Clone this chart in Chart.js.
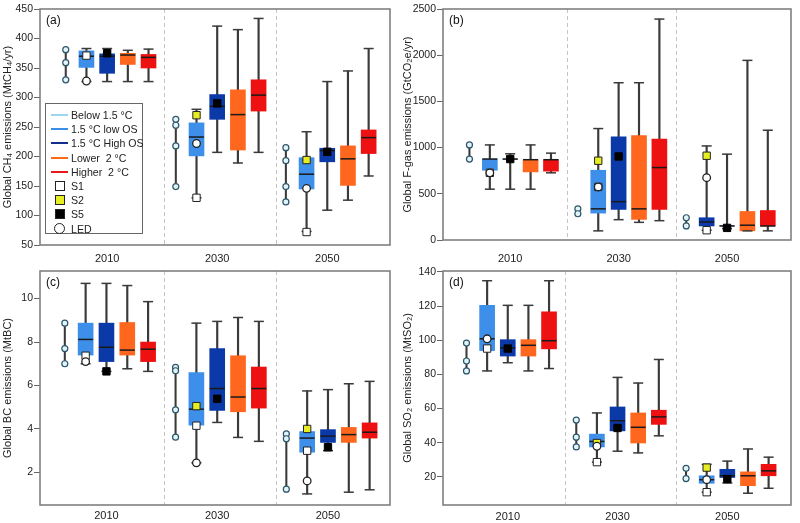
<!DOCTYPE html>
<html>
<head>
<meta charset="utf-8">
<script src="https://cdn.jsdelivr.net/npm/chart.js@4.4.1/dist/chart.umd.min.js"></script>
<style>
  body { margin: 0; background: #fff; font-family: "Liberation Sans", Arial, sans-serif; }
  #wrap { position: relative; width: 800px; height: 523px; background: #fff; }
  canvas { position: absolute; }
  #legend { position: absolute; left: 45px; top: 103px; width: 98px; height: 131px;
            border: 1px solid #666; background: #fff; box-sizing: border-box; font-size: 10.6px; color: #222; }
  .row { position: absolute; left: 0; height: 14px; line-height: 14px; white-space: nowrap; }
  .row .sym { position: absolute; left: 5px; top: 0; width: 17px; height: 14px; }
  .row .txt { position: absolute; left: 25px; top: 0; }
  .ln { position: absolute; left: 0; top: 6px; width: 17px; height: 2px; }
  .sq { position: absolute; left: 4px; top: 2px; width: 8px; height: 8px; border: 1px solid #222; }
  .ci { position: absolute; left: 3px; top: 1px; width: 9px; height: 9px; border: 1.3px solid #222; border-radius: 50%; background: #fff; }
</style>
</head>
<body>
<div id="wrap">
  <canvas id="pa" width="400" height="262" style="left:0;top:0"></canvas>
  <canvas id="pb" width="400" height="262" style="left:400px;top:0"></canvas>
  <canvas id="pc" width="400" height="261" style="left:0;top:262px"></canvas>
  <canvas id="pd" width="400" height="261" style="left:400px;top:262px"></canvas>
  <div id="legend"></div>
</div>
<script>
// categories
const years = ['2010', '2030', '2050'];
const seriesNames = ['Below 1.5 °C', '1.5 °C low OS', '1.5 °C High OS', 'Lower  2 °C', 'Higher  2 °C'];
const markerNames = ['S1', 'S2', 'S5', 'LED'];

// boxes: [min, q1, median, q3, max] per year; Below 1.5 °C: single scenario values

// (a) CH4
const ch4Below15 = [[381, 359, 330], [263, 253, 218, 149], [215, 193, 149, 123]];
const ch4LowOS   = [[327, 351, 370, 379, 383], [130, 201, 233, 257, 280], [73, 145, 170, 198, 242]];
const ch4HighOS  = [[327, 341, 370, 374, 383], [207, 263, 285, 305, 421], [109, 191, 210, 214, 327]];
const ch4Lower2  = [[327, 356, 372, 375, 380], [189, 211, 271, 313, 415], [126, 151, 196, 218, 345]];
const ch4Higher2 = [[327, 350, 368, 373, 382], [207, 277, 304, 330, 434], [167, 205, 232, 245, 383]];
const ch4S1  = [371, 130, 72];
const ch4S2  = [null, 270, 194];
const ch4S5  = [375, 290, 208];
const ch4LED = [328, 222, 146];
const ch4Ticks = [50, 100, 150, 200, 250, 300, 350, 400, 450];

// (b) F-gas
const fgasBelow15 = [[1029, 876], [337, 284], [241, 152]];
const fgasLowOS   = [[550, 755, 876, 876, 1029], [99, 291, 337, 755, 1206], [106, 152, 195, 241, 1018]];
const fgasHighOS  = [[550, 876, 876, 876, 933], [220, 330, 415, 1117, 1702], [124, 152, 152, 152, 929]];
const fgasLower2  = [[550, 737, 869, 869, 1029], [191, 223, 337, 1131, 1702], [99, 99, 160, 309, 1944]];
const fgasHigher2 = [[727, 745, 869, 869, 940], [209, 330, 784, 1093, 2391], [99, 152, 152, 319, 1188]];
const fgasS1  = [727, 574, 106];
const fgasS2  = [null, 858, 912];
const fgasS5  = [876, 904, 131];
const fgasLED = [727, 574, 674];
const fgasTicks = [0, 500, 1000, 1500, 2000, 2500];

// (c) BC
const bcBelow15 = [[8.87, 7.70, 7.0], [6.83, 6.68, 4.88, 3.62], [3.77, 3.55, 1.23]];
const bcLowOS   = [[7.0, 7.40, 8.12, 8.87, 10.7], [2.44, 4.17, 4.91, 6.59, 8.87], [1.01, 2.93, 3.58, 3.88, 5.75]];
const bcHighOS  = [[6.65, 7.1, 7.76, 8.87, 10.7], [4.30, 4.85, 5.86, 7.70, 8.95], [3.0, 3.38, 3.67, 3.97, 5.81]];
const bcLower2  = [[6.77, 7.4, 7.63, 8.9, 10.6], [3.61, 4.79, 5.47, 7.37, 9.13], [1.09, 3.38, 3.74, 4.07, 6.08]];
const bcHigher2 = [[6.65, 7.1, 7.67, 8.0, 9.86], [3.43, 4.96, 5.86, 6.85, 8.95], [1.2, 3.58, 3.85, 4.28, 6.19]];
const bcS1  = [7.37, 4.15, 3.0];
const bcS2  = [null, 5.05, 4.0];
const bcS5  = [6.65, 5.39, 3.16];
const bcLED = [7.1, 2.44, 1.61];
const bcTicks = [2, 4, 6, 8, 10];

// (d) SO2
const so2Below15 = [[98.3, 87.8, 82], [53.2, 43.2, 37.5], [25, 19]];
const so2LowOS   = [[82, 93.9, 100.8, 120.4, 134.8], [28.6, 37.5, 40.7, 45, 57.4], [11, 16.2, 18.3, 20.6, 27.3]];
const so2HighOS  = [[86.8, 90.7, 95.5, 100.3, 120.4], [35, 46.9, 52.8, 60.9, 78.2], [16.4, 19.6, 20.6, 24.4, 29.2]];
const so2Lower2  = [[82, 90.7, 97, 100.3, 120.4], [34, 39.8, 49, 57.4, 74.9], [10.4, 14.8, 20.6, 22.9, 36.3]];
const so2Higher2 = [[83.4, 94.9, 99.7, 116.6, 134.8], [44, 50.7, 55.1, 59, 88.7], [13.3, 20.6, 23.5, 27.3, 31.5]];
const so2S1  = [95.1, 28.6, 11];
const so2S2  = [null, 39.8, 25.4];
const so2S5  = [95.1, 48.6, 18.7];
const so2LED = [100.8, 37.9, 18.3];
const so2Ticks = [20, 40, 60, 80, 100, 120, 140];

// styles
const lineColors = ['#9ad6f0', '#3a8ee8', '#10308c', '#ff6a1a', '#e81818'];
const boxColors = ['#3d8fea', '#0b3aa8', '#ff661e', '#ee1111'];
const whiskerColor = '#3a3a3a';
const medianColor = '#1a1a1a';
const slot = 0.188;   // distance between boxes inside one year group
const FONT = '"Liberation Sans", Arial, sans-serif';

const panelDecor = {
  id: 'panelDecor',
  beforeDatasetsDraw(chart, args, o) {
    const ctx = chart.ctx, a = chart.chartArea, xs = chart.scales.x;
    ctx.save();
    ctx.strokeStyle = '#c4c4c4';
    ctx.lineWidth = 1;
    ctx.setLineDash([4, 3]);
    o.dividers.forEach(v => {
      const px = Math.round(xs.getPixelForValue(v)) + 0.5;
      ctx.beginPath(); ctx.moveTo(px, a.top); ctx.lineTo(px, a.bottom); ctx.stroke();
    });
    ctx.restore();
  },
  afterDraw(chart, args, o) {
    const ctx = chart.ctx, a = chart.chartArea;
    ctx.save();
    ctx.strokeStyle = '#808080';
    ctx.lineWidth = 1.6;
    ctx.strokeRect(a.left, a.top, a.right - a.left, a.bottom - a.top);
    ctx.fillStyle = '#111';
    ctx.font = '12px ' + FONT;
    ctx.textBaseline = 'top';
    ctx.fillText(o.label, a.left + 6, a.top + 6);
    ctx.restore();
  }
};

function pts(xv, vals) {
  return vals.map((v, i) => v == null ? null : { x: i + xv, y: v }).filter(p => p);
}

function buildDatasets(p) {
  const ds = [];
  const bx = -2 * slot;
  ds.push({ type: 'bar', grouped: false, order: 6, barThickness: 1.4, backgroundColor: whiskerColor,
    data: p.below.map((v, i) => ({ x: i + bx, y: [Math.min(...v), Math.max(...v)] })) });
  ds.push({ type: 'scatter', order: 2, pointStyle: 'circle', pointRadius: 3, backgroundColor: '#e2f4fb',
    borderColor: '#2d5566', borderWidth: 1.2,
    data: p.below.flatMap((v, i) => v.map(y => ({ x: i + bx, y }))) });
  p.boxes.forEach((s, k) => {
    const xo = (k - 1) * slot;
    const fill = years.map((_, i) => (p.recolor && p.recolor[0] === k && p.recolor[1] === i) ? boxColors[p.recolor[2]] : boxColors[k]);
    ds.push({ type: 'bar', grouped: false, order: 6, barThickness: 1.5, backgroundColor: whiskerColor,
      data: s.map((b, i) => ({ x: i + xo, y: [b[0], b[4]] })) });
    ds.push({ type: 'bar', grouped: false, order: 5, barThickness: 15, backgroundColor: fill, borderWidth: 0,
      data: s.map((b, i) => ({ x: i + xo, y: [b[1], b[3]] })) });
    ds.push({ type: 'scatter', order: 4, pointStyle: 'line', pointRadius: 7.5, borderColor: medianColor, borderWidth: 1.5,
      data: s.map((b, i) => ({ x: i + xo, y: b[2] })) });
    ds.push({ type: 'scatter', order: 4, pointStyle: 'line', pointRadius: 5, borderColor: whiskerColor, borderWidth: 1.5,
      data: s.flatMap((b, i) => [{ x: i + xo, y: b[0] }, { x: i + xo, y: b[4] }]) });
  });
  const lowX = -slot, highX = 0;
  ds.push({ type: 'scatter', order: 1, pointStyle: 'rect', pointRadius: 5.2, backgroundColor: '#ffffff',
    borderColor: '#222', borderWidth: 1, data: pts(lowX, p.s1) });
  ds.push({ type: 'scatter', order: 1, pointStyle: 'rect', pointRadius: 5.2, backgroundColor: '#e6ee22',
    borderColor: '#222', borderWidth: 1, data: pts(lowX, p.s2) });
  ds.push({ type: 'scatter', order: 1, pointStyle: 'rect', pointRadius: 5.2, backgroundColor: '#000000',
    borderColor: '#000', borderWidth: 1, data: pts(highX, p.s5) });
  ds.push({ type: 'scatter', order: 0, pointStyle: 'circle', pointRadius: 3.8, backgroundColor: '#ffffff',
    borderColor: '#222', borderWidth: 1.3, data: pts(lowX, p.led) });
  return ds;
}

function makePanel(p) {
  new Chart(document.getElementById(p.id), {
    type: 'bar',
    data: { datasets: buildDatasets(p) },
    options: {
      responsive: false,
      animation: false,
      events: [],
      layout: { padding: p.pad },
      plugins: { legend: { display: false }, tooltip: { enabled: false },
                 panelDecor: { label: p.label, dividers: [0.52, 1.53] } },
      scales: {
        x: {
          type: 'linear', min: p.xMin, max: p.xMax, offset: false,
          grid: { display: false, drawTicks: false, tickLength: 0, offset: false },
          border: { display: false },
          afterBuildTicks: s => { s.ticks = years.map((_, i) => ({ value: i })); },
          afterFit: s => { s.height = p.xh; },
          ticks: { callback: v => years[v], padding: p.xPad, color: '#222', font: { family: FONT, size: 11 } }
        },
        y: {
          type: 'linear', min: p.yMin, max: p.yMax, beginAtZero: false,
          grid: { drawOnChartArea: false, drawTicks: true, tickLength: 6, color: '#666' },
          border: { display: false },
          afterBuildTicks: s => { s.ticks = p.ticks.map(v => ({ value: v })); },
          afterFit: s => { s.width = p.yw; },
          ticks: { callback: v => String(v), padding: 1, color: '#222', font: { family: FONT, size: 10.5 } },
          title: { display: true, text: p.title, color: '#222', padding: { top: 1, bottom: 0 }, font: { family: FONT, size: 11 } }
        }
      }
    },
    plugins: [panelDecor]
  });
}

makePanel({ id: 'pa', label: '(a)', title: 'Global CH\u2084 emissions (MtCH\u2084/yr)',
  below: ch4Below15, boxes: [ch4LowOS, ch4HighOS, ch4Lower2, ch4Higher2],
  s1: ch4S1, s2: ch4S2, s5: ch4S5, led: ch4LED, ticks: ch4Ticks,
  yMin: 50, yMax: 450, xMin: -0.61, xMax: 2.57, yw: 40, xh: 17, xPad: 7,
  pad: { top: 5, right: 10, bottom: 0, left: 0 } });

makePanel({ id: 'pb', label: '(b)', title: 'Global F-gas emissions (GtCO\u2082e/yr)',
  below: fgasBelow15, boxes: [fgasLowOS, fgasHighOS, fgasLower2, fgasHigher2],
  s1: fgasS1, s2: fgasS2, s5: fgasS5, led: fgasLED, ticks: fgasTicks, recolor: [0, 2, 1],
  yMin: 0, yMax: 2500, xMin: -0.62, xMax: 2.59, yw: 43, xh: 22, xPad: 12,
  pad: { top: 5, right: 3, bottom: 0, left: 0 } });

makePanel({ id: 'pc', label: '(c)', title: 'Global BC emissions (MtBC)',
  below: bcBelow15, boxes: [bcLowOS, bcHighOS, bcLower2, bcHigher2],
  s1: bcS1, s2: bcS2, s5: bcS5, led: bcLED, ticks: bcTicks,
  yMin: 0.5, yMax: 11.27, xMin: -0.6, xMax: 2.56, yw: 40, xh: 18, xPad: 4,
  pad: { top: 4, right: 10, bottom: 0, left: 0 } });

makePanel({ id: 'pd', label: '(d)', title: 'Global SO\u2082 emissions (MtSO\u2082)',
  below: so2Below15, boxes: [so2LowOS, so2HighOS, so2Lower2, so2Higher2],
  s1: so2S1, s2: so2S2, s5: so2S5, led: so2LED, ticks: so2Ticks,
  yMin: 3.5, yMax: 140.5, xMin: -0.59, xMax: 2.58, yw: 43, xh: 18, xPad: 5,
  pad: { top: 5, right: 3, bottom: 0, left: 0 } });

// legend of panel (a)
const legend = document.getElementById('legend');
const symbols = [
  '<div class="ln" style="background:' + lineColors[0] + '"></div>',
  '<div class="ln" style="background:' + lineColors[1] + '"></div>',
  '<div class="ln" style="background:' + lineColors[2] + '"></div>',
  '<div class="ln" style="background:' + lineColors[3] + '"></div>',
  '<div class="ln" style="background:' + lineColors[4] + '"></div>',
  '<div class="sq" style="background:#fff"></div>',
  '<div class="sq" style="background:#e6ee22"></div>',
  '<div class="sq" style="background:#000"></div>',
  '<div class="ci"></div>'
];
seriesNames.concat(markerNames).forEach((name, i) => {
  const row = document.createElement('div');
  row.className = 'row';
  row.style.top = (4 + i * 14.2) + 'px';
  row.innerHTML = '<div class="sym">' + symbols[i] + '</div><div class="txt">' + name.replace(/  /g, '&nbsp; ') + '</div>';
  legend.appendChild(row);
});
</script>
</body>
</html>
